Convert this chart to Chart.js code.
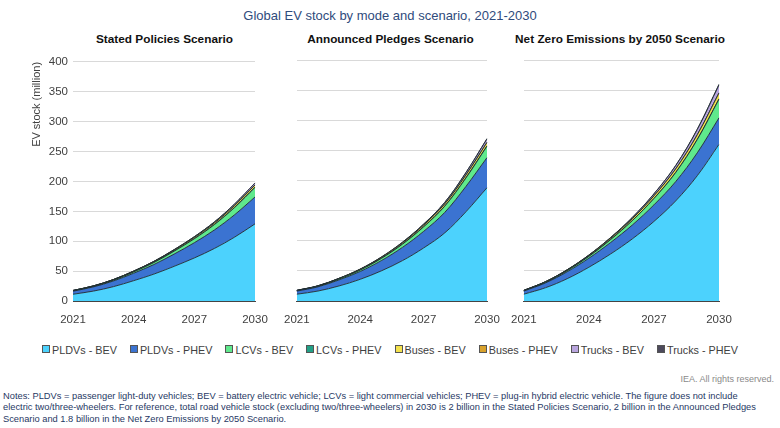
<!DOCTYPE html>
<html>
<head>
<meta charset="utf-8">
<script src="https://cdn.jsdelivr.net/npm/chart.js@4.4.1/dist/chart.umd.min.js"></script>
<style>
  body { margin: 0; background: #fff; font-family: "Liberation Sans", Arial, sans-serif; }
  #page { position: relative; width: 780px; height: 428px; overflow: hidden; }
  .abs { position: absolute; }
  .title { left: 0; width: 780px; top: 8px; text-align: center; font-size: 13px; color: #2f4b7c; }
  .ptitle { top: 32px; font-size: 11.8px; font-weight: bold; color: #111; text-align: center; white-space: nowrap; }
  #legend { left: 0; width: 780px; top: 344px; display: flex; justify-content: center; gap: 13px; font-size: 10.8px; color: #404040; }
  #legend span.box { display: inline-block; width: 6px; height: 6px; margin-right: 2px; vertical-align: 1px; }
  .rights { right: 6px; top: 374px; font-size: 9px; color: #8a8a8a; }
  .notes { left: 3px; top: 391px; font-size: 9.3px; line-height: 11.4px; color: #1f3864; white-space: nowrap; }
</style>
</head>
<body>
<div id="page">
  <div class="abs title">Global EV stock by mode and scenario, 2021-2030</div>
  <div class="abs ptitle" style="left:63px;width:203px;">Stated Policies Scenario</div>
  <div class="abs ptitle" style="left:284px;width:213px;">Announced Pledges Scenario</div>
  <div class="abs ptitle" style="left:500px;width:240px;">Net Zero Emissions by 2050 Scenario</div>

  <div class="abs" style="left:30px;top:50px;"><canvas id="c1" width="245" height="281"></canvas></div>
  <div class="abs" style="left:280px;top:50px;"><canvas id="c2" width="227" height="281"></canvas></div>
  <div class="abs" style="left:507px;top:50px;"><canvas id="c3" width="232" height="281"></canvas></div>

  <div class="abs" id="legend"></div>
  <div class="abs rights">IEA. All rights reserved.</div>
  <div class="abs notes">Notes: PLDVs = passenger light-duty vehicles; BEV = battery electric vehicle; LCVs = light commercial vehicles; PHEV = plug-in hybrid electric vehicle. The figure does not include<br>electric two/three-wheelers. For reference, total road vehicle stock (excluding two/three-wheelers) in 2030 is 2 billion in the Stated Policies Scenario, 2 billion in the Announced Pledges<br>Scenario and 1.8 billion in the Net Zero Emissions by 2050 Scenario.</div>
</div>

<script>
// years and tick labels
const years = ['2021','2022','2023','2024','2025','2026','2027','2028','2029','2030'];
const xTickLabels = ['2021','2024','2027','2030'];
const yTicks = [0, 50, 100, 150, 200, 250, 300, 350, 400];

const seriesNames = ['PLDVs - BEV','PLDVs - PHEV','LCVs - BEV','LCVs - PHEV','Buses - BEV','Buses - PHEV','Trucks - BEV','Trucks - PHEV'];
const seriesColors = ['#4cd2fd','#3b73d1','#5fe98c','#22a086','#f4e24d','#d9a22c','#b9a5de','#4d4a5c'];

// Stated Policies Scenario (million)
const pldvBevSteps   = [11.3, 16.5, 24, 34, 45, 58, 72, 88, 107, 129];
const pldvPhevSteps  = [5.1, 7, 9.5, 12.5, 16, 20.5, 25.5, 31, 37.5, 45];
const lcvBevSteps    = [0.5, 0.8, 1.3, 2.1, 3.3, 4.8, 6.6, 9, 12.2, 16];
const lcvPhevSteps   = [0.02, 0.03, 0.05, 0.08, 0.12, 0.17, 0.23, 0.3, 0.4, 0.5];
const busBevSteps    = [0.6, 0.7, 0.85, 1.05, 1.3, 1.6, 2, 2.4, 2.9, 3.5];
const busPhevSteps   = [0.05, 0.06, 0.07, 0.08, 0.1, 0.12, 0.14, 0.16, 0.18, 0.2];
const truckBevSteps  = [0.06, 0.1, 0.17, 0.27, 0.42, 0.65, 1, 1.5, 2.2, 3];
const truckPhevSteps = [0.01, 0.02, 0.03, 0.05, 0.08, 0.12, 0.17, 0.23, 0.3, 0.4];

// Announced Pledges Scenario
const pldvBevAps   = [11.3, 16.5, 25, 36, 50, 67, 88, 113, 148, 188];
const pldvPhevAps  = [5.1, 7, 10, 13, 17, 22, 27.5, 34, 42, 50];
const lcvBevAps    = [0.5, 0.8, 1.4, 2.3, 3.6, 5.3, 7.5, 10.3, 14, 19];
const lcvPhevAps   = [0.02, 0.03, 0.05, 0.08, 0.12, 0.18, 0.25, 0.35, 0.5, 0.6];
const busBevAps    = [0.6, 0.7, 0.9, 1.15, 1.5, 2, 2.6, 3.4, 4.4, 5.5];
const busPhevAps   = [0.05, 0.06, 0.07, 0.09, 0.11, 0.14, 0.17, 0.2, 0.24, 0.3];
const truckBevAps  = [0.06, 0.1, 0.18, 0.3, 0.5, 0.85, 1.4, 2.2, 3.5, 5.5];
const truckPhevAps = [0.01, 0.02, 0.03, 0.05, 0.09, 0.14, 0.22, 0.33, 0.5, 0.7];

// Net Zero Emissions by 2050 Scenario
const pldvBevNze   = [11.3, 22, 37, 56, 78, 103, 132, 166, 208, 260];
const pldvPhevNze  = [5.1, 8, 11.5, 15, 19, 23, 27.5, 32, 38, 44];
const lcvBevNze    = [0.5, 1, 1.8, 3, 4.8, 7.3, 10.5, 15, 22, 31];
const lcvPhevNze   = [0.02, 0.04, 0.07, 0.1, 0.15, 0.2, 0.3, 0.4, 0.5, 0.6];
const busBevNze    = [0.6, 0.8, 1.1, 1.5, 2.1, 3, 4.1, 5.6, 7.4, 9.5];
const busPhevNze   = [0.05, 0.06, 0.08, 0.1, 0.13, 0.17, 0.22, 0.28, 0.35, 0.4];
const truckBevNze  = [0.06, 0.12, 0.25, 0.5, 0.95, 1.7, 3, 5, 8.3, 13];
const truckPhevNze = [0.01, 0.02, 0.04, 0.07, 0.12, 0.2, 0.35, 0.55, 0.85, 1.2];

const stepsData = [pldvBevSteps, pldvPhevSteps, lcvBevSteps, lcvPhevSteps, busBevSteps, busPhevSteps, truckBevSteps, truckPhevSteps];
const apsData = [pldvBevAps, pldvPhevAps, lcvBevAps, lcvPhevAps, busBevAps, busPhevAps, truckBevAps, truckPhevAps];
const nzeData = [pldvBevNze, pldvPhevNze, lcvBevNze, lcvPhevNze, busBevNze, busPhevNze, truckBevNze, truckPhevNze];

Chart.defaults.font.family = '"Liberation Sans", Arial, sans-serif';

function makePanel(id, data, yWidth, showY) {
    const datasets = data.map((vals, i) => ({
        label: seriesNames[i],
        data: vals,
        backgroundColor: seriesColors[i],
        borderColor: '#1e2a30',
        borderWidth: 0.9,
        pointRadius: 0,
        tension: 0.35,
        fill: i === 0 ? 'origin' : '-1'
    }));
    return new Chart(document.getElementById(id), {
        type: 'line',
        data: { labels: years, datasets: datasets },
        options: {
            responsive: false,
            animation: false,
            layout: { padding: { top: 10, right: 20, left: 0, bottom: 0 } },
            plugins: { legend: { display: false }, tooltip: { enabled: false } },
            scales: {
                x: {
                    grid: { display: false },
                    border: { display: true, color: '#444', width: 1 },
                    ticks: {
                        autoSkip: false,
                        maxRotation: 0,
                        padding: 4,
                        color: '#404040',
                        font: { size: 11.5 },
                        callback: function (v) {
                            const l = this.getLabelForValue(v);
                            return xTickLabels.includes(l) ? l : '';
                        }
                    },
                    afterFit: s => { s.height = 30; }
                },
                y: {
                    stacked: true,
                    min: 0,
                    max: 400,
                    afterBuildTicks: s => { s.ticks = yTicks.map(v => ({ value: v })); },
                    grid: { color: '#d9d9d9', lineWidth: 1, drawTicks: false },
                    border: { display: false },
                    ticks: { display: showY, padding: 5, color: '#404040', font: { size: 11.5 } },
                    title: {
                        display: showY,
                        text: 'EV stock (million)',
                        align: 'end',
                        color: '#404040',
                        font: { size: 11 },
                        padding: { top: 0, bottom: 0 }
                    },
                    afterFit: s => { s.width = yWidth; }
                }
            }
        }
    });
}

makePanel('c1', stepsData, 43, true);
makePanel('c2', apsData, 14, false);
makePanel('c3', nzeData, 14, false);

// legend
const legend = document.getElementById('legend');
seriesNames.forEach((name, i) => {
    const item = document.createElement('div');
    item.innerHTML = '<span class="box" style="background:' + seriesColors[i] + ';border:1px solid #555"></span>' + name;
    legend.appendChild(item);
});
</script>
</body>
</html>
